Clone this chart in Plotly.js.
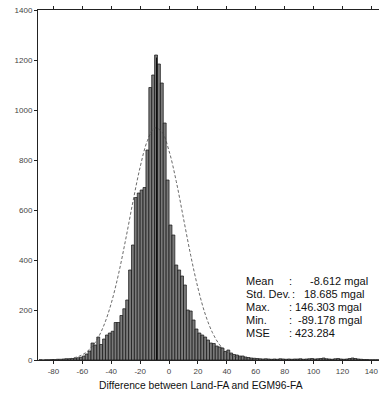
<!DOCTYPE html>
<html><head><meta charset="utf-8">
<script src="https://cdn.plot.ly/plotly-3.0.1.min.js"></script>
<style>html,body{margin:0;padding:0;background:#fff;}#chart{width:381px;height:395px;}</style>
</head><body><div id="chart"></div>
<script>
// Histogram bins (2 mgal wide), bin centres and counts
const binCenters = [-89,-87,-85,-83,-81,-79,-77,-75,-73,-71,-69,-67,-65,-63,-61,-59,-57,-55,-53,-51,-49,-47,-45,-43,-41,-39,-37,-35,-33,-31,-29,-27,-25,-23,-21,-19,-17,-15,-13,-11,-9,-7,-5,-3,-1,1,3,5,7,9,11,13,15,17,19,21,23,25,27,29,31,33,35,37,39,41,43,45,47,49,51,53,55,57,59,61,63,65,67,69,71,73,75,77,79,81,83,85,87,89,91,93,95,97,99,101,103,105,107,109,111,113,115,117,119,121,123,125,127,129,131,133,135,137,139,141,143,145];
const counts = [1,0,1,1,2,2,3,3,4,5,5,6,7,9,11,16,24,36,68,60,92,62,84,100,108,115,150,150,178,205,240,360,460,650,668,680,690,840,1090,1140,1220,1184,1108,948,720,540,500,380,360,336,300,200,196,160,124,108,100,92,80,68,66,56,52,48,34,40,28,22,20,16,16,12,10,8,7,6,5,4,5,4,3,4,3,5,4,3,4,3,4,4,5,3,4,5,6,4,5,6,8,5,4,3,5,6,4,3,4,6,8,6,4,3,2,2,1,1,1,1];
// Fitted normal curve at 5 mgal steps
const curveX = [-90,-85,-80,-75,-70,-65,-60,-55,-50,-45,-40,-35,-30,-25,-20,-15,-10,-5,0,5,10,15,20,25,30,35,40,45,50,55,60,65,70];
const curveY = [0,0.2,0.6,1.7,4,10,21,43,80,140,227,343,483,633,772,877,928,913,836,714,566,418,288,184,110,61,32,15,7,3,1,0.3,0];
const statLabels = ["Mean","Std. Dev.","Max.","Min.","MSE"];
const statValues = ["-8.612 mgal","18.685 mgal","146.303 mgal","-89.178 mgal","423.284"];
const meanValue = -8.612;
const xTicks = [-80,-60,-40,-20,0,20,40,60,80,100,120,140];
const yTicks = [0,200,400,600,800,1000,1200,1400];

const font = "Liberation Sans, Arial, sans-serif";
const traces = [
  {type:"bar", x:binCenters, y:counts, width:2,
   marker:{color:"#7a7a7a", line:{color:"#111", width:0.7}}, hoverinfo:"skip"},
  {type:"scatter", mode:"lines", x:curveX, y:curveY,
   line:{color:"#444", width:0.8, dash:"3px,2px", shape:"spline"}, hoverinfo:"skip"}
];
const statY = [316,264,212,160,108];
const valueX = [96.0,91.8,85.6,87.7,85.6];
const ann = [];
statLabels.forEach((s,i)=>{
  ann.push({x:51.7, y:statY[i], xref:"x", yref:"y", text:s, showarrow:false, xanchor:"left", yanchor:"middle", font:{family:font,size:11,color:"#111"}});
  ann.push({x:i===1?84:81.5, y:statY[i], xref:"x", yref:"y", text:":", showarrow:false, xanchor:"left", yanchor:"middle", font:{family:font,size:11,color:"#111"}});
  ann.push({x:valueX[i], y:statY[i], xref:"x", yref:"y", text:statValues[i], showarrow:false, xanchor:"left", yanchor:"middle", font:{family:font,size:11,color:"#111"}});
});
ann.push({x:(201-38)/341, y:-25/350, xref:"paper", yref:"paper", text:"Difference between Land-FA and EGM96-FA", showarrow:false, xanchor:"center", yanchor:"middle", font:{family:font,size:10.3,color:"#111"}});
const layout = {
  width:381, height:395, margin:{l:38,r:2,t:10,b:35},
  paper_bgcolor:"#fff", plot_bgcolor:"#fff", showlegend:false, bargap:0,
  font:{family:font, color:"#222"},
  xaxis:{range:[-90.7,145.3], tickvals:xTicks, ticktext:xTicks.map(String), ticks:"outside", ticklen:3, tickcolor:"#222",
         showline:true, linecolor:"#222", linewidth:1, mirror:"ticks", showgrid:false, zeroline:false,
         tickfont:{family:font,size:8,color:"#444"}},
  yaxis:{range:[0,1400], tickvals:yTicks, ticktext:yTicks.map(String), ticks:"outside", ticklen:3, tickcolor:"#222",
         showline:true, linecolor:"#222", linewidth:1, mirror:false, showgrid:false, zeroline:false,
         tickfont:{family:font,size:8,color:"#444"}},
  shapes:[{type:"line", xref:"x", yref:"y", x0:meanValue, x1:meanValue, y0:0, y1:1210, line:{color:"#000", width:1}}],
  annotations:ann
};
Plotly.newPlot("chart", traces, layout, {displayModeBar:false, staticPlot:true});
</script></body></html>
